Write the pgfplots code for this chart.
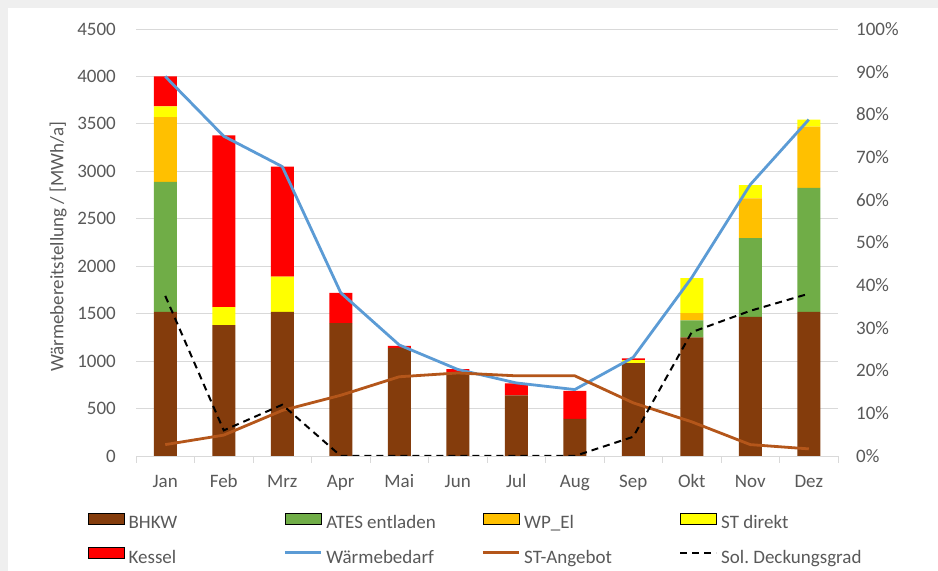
\documentclass[border=0pt]{standalone}
\usepackage{fontspec}
\setmainfont{Carlito}
\usepackage{pgfplots}
\pgfplotsset{compat=1.18}
\definecolor{bhkw}{HTML}{843C0C}
\definecolor{ates}{HTML}{70AD47}
\definecolor{wpel}{HTML}{FFC000}
\definecolor{std}{HTML}{FFFF00}
\definecolor{kessel}{HTML}{FF0000}
\definecolor{wbed}{HTML}{5B9BD5}
\definecolor{stang}{HTML}{B4561A}
\definecolor{txt}{HTML}{595959}
\definecolor{gridc}{HTML}{D9D9D9}
\definecolor{bggray}{HTML}{EFEFEF}
\pgfplotsset{
  myaxis/.style={
    scale only axis, width=702bp, height=427bp,
    at={(136bp,115bp)}, anchor=south west,
    xmin=-0.5, xmax=11.5,
    enlarge x limits=false, enlarge y limits=false,
    major tick length=0bp,
    /pgf/number format/assume math mode=true,
    /pgf/number format/1000 sep={},
    tick label style={font=\fontsize{19bp}{23bp}\selectfont, text=txt},
    label style={font=\fontsize{19bp}{23bp}\selectfont, text=txt},
  },
  barimg/.style={legend image code/.code={\fill[##1] (0bp,0.5bp) rectangle (36bp,11.5bp);}},
  lineimg/.style={legend image code/.code={\draw[##1] (0bp,6bp) -- (36bp,6bp);}},
}
\begin{document}
\frenchspacing
\begin{tikzpicture}[x=1bp,y=1bp]
\fill[bggray] (0,0) rectangle (938,571);
\fill[white] (8,0) rectangle (938,563);
\path[use as bounding box] (0,0) rectangle (938,571);

% Axis A: stacked bars
\begin{axis}[myaxis,
  ybar stacked, bar width=23bp,
  ymin=0, ymax=4500, ytick={0,500,...,4500},
  axis x line*=bottom, axis y line*=left,
  y axis line style={draw=none},
  x axis line style={draw=gridc, line width=0.9bp},
  ymajorgrids, grid style={draw=gridc, line width=0.9bp},
  xtick={0,...,11},
  xticklabels={Jan,Feb,Mrz,Apr,Mai,Jun,Jul,Aug,Sep,Okt,Nov,Dez},
  minor xtick={-0.5,0.5,...,11.5},
  minor tick length=7bp, tick align=outside,
  minor x tick style={draw=gridc, line width=0.9bp},
  major x tick style={draw=none}, major y tick style={draw=none},
  xticklabel style={anchor=north, inner sep=0pt, yshift=-18bp, text height=13bp, text depth=4bp},
  yticklabel style={anchor=east, inner sep=0pt, xshift=-20bp},
  clip=false,
]
\addplot[fill=bhkw, draw=none] coordinates {(0,1520) (1,1380) (2,1520) (3,1400) (4,1140) (5,880) (6,640) (7,390) (8,980) (9,1250) (10,1465) (11,1520)};
\addplot[fill=ates, draw=none] coordinates {(0,1370) (1,0) (2,0) (3,0) (4,0) (5,0) (6,0) (7,0) (8,0) (9,180) (10,830) (11,1305)};
\addplot[fill=wpel, draw=none] coordinates {(0,680) (1,0) (2,0) (3,0) (4,0) (5,0) (6,0) (7,0) (8,0) (9,75) (10,420) (11,645)};
\addplot[fill=std, draw=none] coordinates {(0,115) (1,190) (2,370) (3,0) (4,0) (5,0) (6,0) (7,0) (8,30) (9,370) (10,140) (11,75)};
\addplot[fill=kessel, draw=none] coordinates {(0,316) (1,1810) (2,1160) (3,320) (4,20) (5,35) (6,125) (7,295) (8,20) (9,0) (10,0) (11,0)};
\node[rotate=90, anchor=center, inner sep=0pt, font=\fontsize{19bp}{23bp}\selectfont, text=txt]
  at (axis description cs:-0.111,0.49) {Wärmebereitstellung / [MWh/a]};
\end{axis}

% Axis B: lines on left scale + legend
\begin{axis}[myaxis, hide axis, ymin=0, ymax=4500,
  legend columns=4,
  legend style={at={(axis description cs:-0.0684,-0.1323)}, anchor=north west,
    draw=none, fill=none, inner sep=0pt, row sep=14bp,
    font=\fontsize{19bp}{23bp}\selectfont, text=txt,
    /tikz/every odd column/.style={column sep=4bp},
    nodes={text width=155bp, align=flush left, inner sep=0pt, text height=13bp, text depth=4bp}},
]
\addlegendimage{barimg, fill=bhkw}
\addlegendimage{barimg, fill=ates}
\addlegendimage{barimg, fill=wpel}
\addlegendimage{barimg, fill=std}
\addlegendimage{barimg, fill=kessel}
\addplot[lineimg, wbed, line width=2.8bp, line join=round] coordinates {(0,4000) (1,3370) (2,3050) (3,1720) (4,1170) (5,912) (6,770) (7,700) (8,1040) (9,1880) (10,2860) (11,3545)};
\addplot[lineimg, stang, line width=2.8bp, line join=round] coordinates {(0,120) (1,220) (2,480) (3,640) (4,835) (5,875) (6,845) (7,845) (8,560) (9,360) (10,120) (11,75)};
\addlegendimage{lineimg, black, line width=2bp, dash pattern=on 7bp off 5bp}
\legend{BHKW, ATES entladen, WP\_El, ST direkt, Kessel, Wärmebedarf, ST-Angebot, Sol. Deckungsgrad}
\end{axis}

% Axis C: right axis, solar coverage
\begin{axis}[myaxis, ymin=0, ymax=100,
  axis y line*=right, axis x line=none,
  y axis line style={draw=none}, major y tick style={draw=none},
  ytick={0,10,...,100},
  yticklabel={\pgfmathprintnumber{\tick}\%},
  yticklabel style={anchor=west, inner sep=0pt, xshift=18bp},
]
\addplot[black, line width=2bp, dash pattern=on 7bp off 5bp] coordinates {(0,37.5) (1,6) (2,12) (3,0) (4,0) (5,0) (6,0) (7,0) (8,4.5) (9,29) (10,34) (11,38)};
\end{axis}
\end{tikzpicture}
\end{document}
